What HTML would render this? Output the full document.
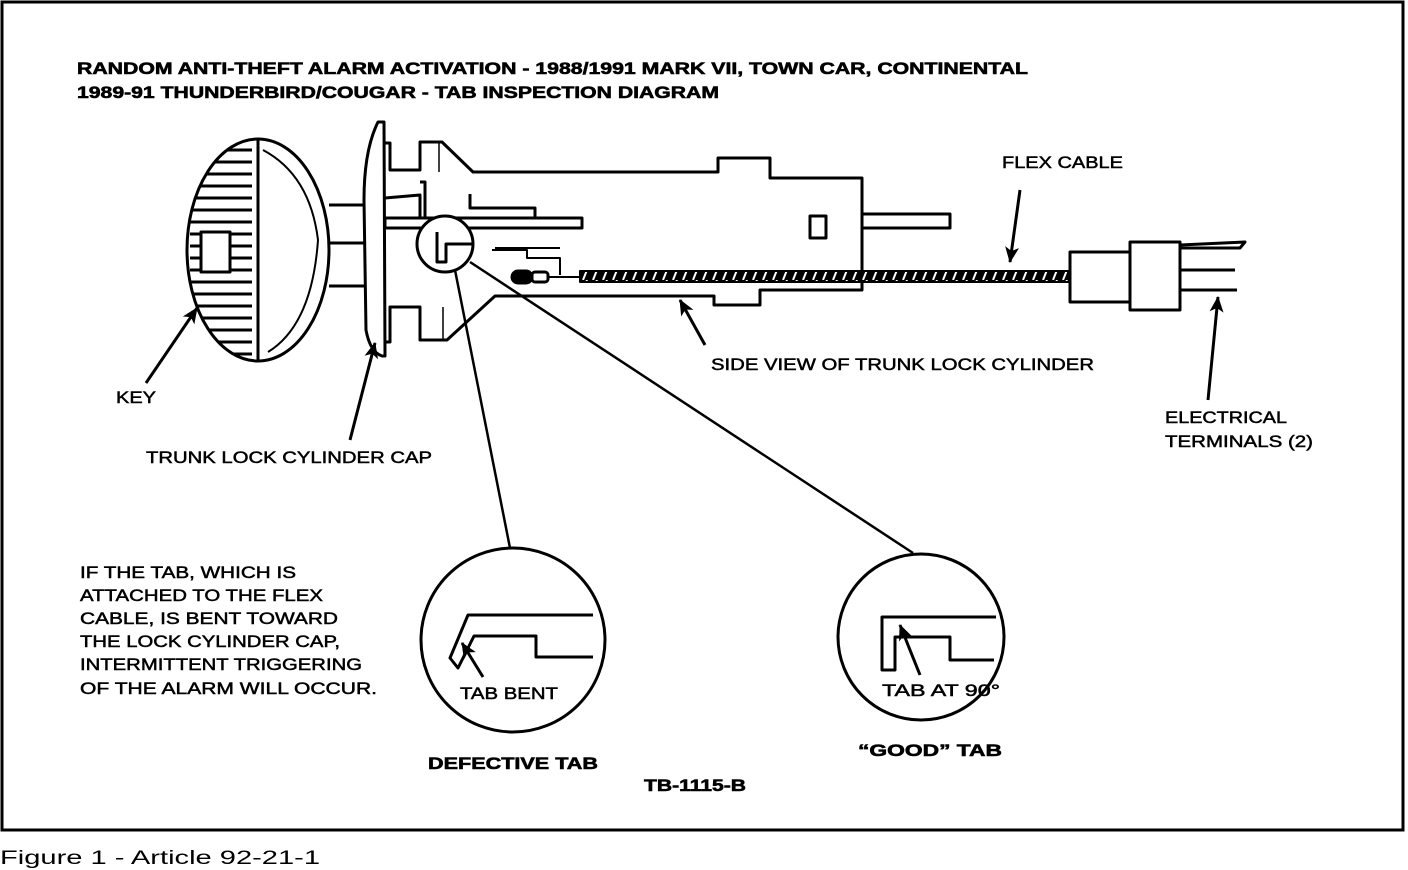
<!DOCTYPE html>
<html><head><meta charset="utf-8"><style>
html,body{margin:0;padding:0;background:#fff;}
svg{display:block;}
text{font-family:"Liberation Sans",sans-serif;fill:#000;}
.n{stroke:#000;stroke-width:0.5;}
.b{font-weight:bold;stroke:#000;stroke-width:0.6;}
</style></head><body>
<svg width="1408" height="870" viewBox="0 0 1408 870" xmlns="http://www.w3.org/2000/svg">
<defs>
<marker id="ah" markerWidth="16" markerHeight="14" refX="15" refY="7" orient="auto" markerUnits="userSpaceOnUse">
<path d="M0,0 L16,7 L0,14 L4,7 Z" fill="#000"/></marker>
<pattern id="hatch" width="10" height="10" patternUnits="userSpaceOnUse"><rect width="10" height="10" fill="#000"/><path d="M3,10 L7,0" stroke="#fff" stroke-width="2"/></pattern>
<clipPath id="kl"><path d="M258,139 A71,111 0 0 0 258,361 Z"/></clipPath>
</defs>
<rect x="2" y="2" width="1401" height="828" fill="none" stroke="#000" stroke-width="3"/>
<text x="0" y="864" font-size="19" textLength="320" lengthAdjust="spacingAndGlyphs">Figure 1 - Article 92-21-1</text>

<text class="b" x="77" y="74" font-size="17" textLength="951" lengthAdjust="spacingAndGlyphs">RANDOM ANTI-THEFT ALARM ACTIVATION - 1988/1991 MARK VII, TOWN CAR, CONTINENTAL</text>
<text class="b" x="77" y="98" font-size="17" textLength="642" lengthAdjust="spacingAndGlyphs">1989-91 THUNDERBIRD/COUGAR - TAB INSPECTION DIAGRAM</text>

<g fill="none" stroke="#000" stroke-width="3" stroke-linejoin="round">
<g clip-path="url(#kl)">
<path d="M190,150 H252 M190,162 H252 M190,174 H252 M190,186 H252 M190,198 H252 M190,210 H252 M190,222 H252 M190,234 H200 M231,234 H252 M190,246 H200 M231,246 H252 M190,258 H200 M231,258 H252 M190,270 H200 M231,270 H252 M190,282 H252 M190,294 H252 M190,306 H252 M190,318 H252 M190,330 H252 M190,342 H252 M190,354 H252"/>
</g>
<ellipse cx="258" cy="250" rx="71" ry="111"/>
<line x1="258" y1="139" x2="258" y2="361"/>
<path d="M263,150 Q310,175 318,240 Q312,325 268,352" stroke-width="2"/>
<rect x="201" y="232" width="29" height="40" fill="#fff"/>
<path d="M329,205 H365 M329,243 H365 M329,286 H365"/>
<path d="M378,122 Q364,150 364,200 L366,330 Q370,352 382,356 L385,356 L384,122 Z" fill="#fff"/>
<path d="M385,143 H390 V170 H420 V142 H442 L473,172 H718 V158 H770 V178 H862 V290 H760 V305 H714 V296 H495 L447,340 H420 V307 H390 V342 H385"/>
<path d="M439,142 V172 M443,307 V340" stroke-width="1.5"/>
<rect x="385" y="218" width="197" height="10" fill="#fff"/>
<path d="M385,198 L420,195 V218 M420,182 H425 V218 M470,194 V208 H535 V218"/>
<path d="M492,250 H527 V258 H560 V275 M495,248 H560" stroke-width="2"/>
<rect x="512" y="271" width="20" height="12" rx="6" fill="#000"/>
<rect x="532" y="272" width="16" height="10" rx="3"/>
<line x1="548" y1="277" x2="580" y2="277" stroke-width="2"/>
<rect x="810" y="216" width="16" height="22"/>
<rect x="862" y="214" width="88" height="14"/>
<circle cx="445" cy="244" r="28" fill="#fff"/>
<path d="M437,232 V262 H446 V244 H472"/>
<rect x="580" y="271" width="490" height="11" fill="url(#hatch)" stroke-width="2"/>
<rect x="1070" y="252" width="60" height="50" fill="#fff"/>
<rect x="1130" y="242" width="50" height="68" fill="#fff"/>
<path d="M1180,245 L1245,242 L1240,248 H1180 M1180,270 H1235 M1180,290 H1237"/>
<line x1="455" y1="270" x2="510" y2="548" stroke-width="2.5"/>
<line x1="470" y1="262" x2="913" y2="553" stroke-width="2.5"/>
<line x1="146" y1="383" x2="197" y2="308" marker-end="url(#ah)"/>
<line x1="350" y1="440" x2="375" y2="343" marker-end="url(#ah)"/>
<line x1="705" y1="345" x2="680" y2="300" marker-end="url(#ah)"/>
<line x1="1020" y1="190" x2="1010" y2="262" marker-end="url(#ah)"/>
<line x1="1208" y1="400" x2="1218" y2="297" marker-end="url(#ah)"/>
<circle cx="513" cy="640" r="92"/>
<path d="M593,615 H468 L450,658 L458,668 L474,636 H536 V657 H593"/>
<line x1="483" y1="677" x2="462" y2="643" marker-end="url(#ah)"/>
<circle cx="921" cy="637" r="83"/>
<path d="M996,617 H882 V670 H895 V637 H950 V660 H994"/>
<line x1="920" y1="675" x2="900" y2="625" marker-end="url(#ah)"/>
</g>

<g font-size="17" class="n">
<text x="1002" y="168" textLength="121" lengthAdjust="spacingAndGlyphs">FLEX CABLE</text>
<text x="116" y="403" textLength="40" lengthAdjust="spacingAndGlyphs">KEY</text>
<text x="146" y="463" textLength="286" lengthAdjust="spacingAndGlyphs">TRUNK LOCK CYLINDER CAP</text>
<text x="711" y="370" textLength="383" lengthAdjust="spacingAndGlyphs">SIDE VIEW OF TRUNK LOCK CYLINDER</text>
<text x="1165" y="423" textLength="122" lengthAdjust="spacingAndGlyphs">ELECTRICAL</text>
<text x="1165" y="447" textLength="148" lengthAdjust="spacingAndGlyphs">TERMINALS (2)</text>
<text x="80" y="578" textLength="216" lengthAdjust="spacingAndGlyphs">IF THE TAB, WHICH IS</text>
<text x="80" y="601" textLength="243" lengthAdjust="spacingAndGlyphs">ATTACHED TO THE FLEX</text>
<text x="80" y="624" textLength="258" lengthAdjust="spacingAndGlyphs">CABLE, IS BENT TOWARD</text>
<text x="80" y="647" textLength="260" lengthAdjust="spacingAndGlyphs">THE LOCK CYLINDER CAP,</text>
<text x="80" y="670" textLength="282" lengthAdjust="spacingAndGlyphs">INTERMITTENT TRIGGERING</text>
<text x="80" y="694" textLength="297" lengthAdjust="spacingAndGlyphs">OF THE ALARM WILL OCCUR.</text>
<text x="460" y="699" textLength="98" lengthAdjust="spacingAndGlyphs">TAB BENT</text>
<text x="882" y="696" textLength="118" lengthAdjust="spacingAndGlyphs">TAB AT 90°</text>
</g>
<g font-size="17">
<text class="b" x="428" y="769" textLength="170" lengthAdjust="spacingAndGlyphs">DEFECTIVE TAB</text>
<text class="b" x="858" y="756" textLength="144" lengthAdjust="spacingAndGlyphs">“GOOD” TAB</text>
<text class="b" x="644" y="791" textLength="102" lengthAdjust="spacingAndGlyphs">TB-1115-B</text>
</g>
</svg>
</body></html>
